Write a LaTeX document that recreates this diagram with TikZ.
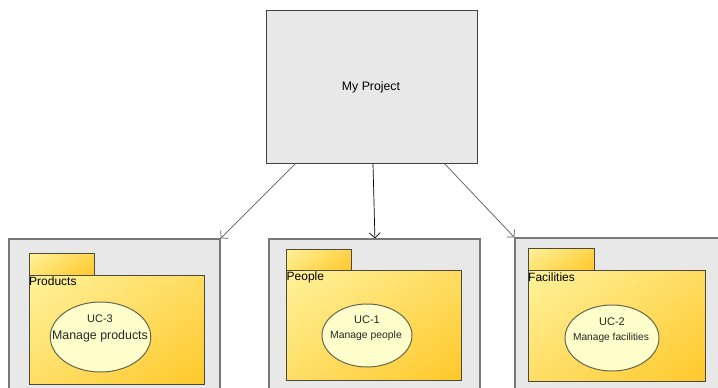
\documentclass[tikz,border=0pt]{standalone}
\usepackage{fontspec}
\setmainfont{Liberation Sans}
\usetikzlibrary{arrows.meta,calc,shapes.geometric}
\definecolor{panelfill}{HTML}{E8E8E8}
\definecolor{panelline}{HTML}{787878}
\definecolor{foldlight}{HTML}{FFF29C}
\definecolor{folddark}{HTML}{FFC82A}
\definecolor{foldline}{HTML}{4A4A3A}
\definecolor{ucfill}{HTML}{FFFFCC}
\definecolor{ucline}{HTML}{66664F}
\pgfdeclareverticalshading{foldshade}{100bp}{color(0bp)=(folddark); color(15bp)=(folddark); color(85bp)=(foldlight); color(100bp)=(foldlight)}
\tikzset{
  x=1pt,y=-1pt,
  topbox/.style={draw=black!75,line width=1pt,fill=panelfill,rectangle,inner sep=0pt},
  panel/.style={draw=panelline,line width=1.4pt,fill=panelfill,rectangle,inner sep=0pt},
  foldpart/.style={draw=foldline,line width=1pt,rectangle,inner sep=0pt,shade,shading=foldshade,shading angle=35},
  folderlabel/.style={inner sep=0pt,anchor=west,font=\fontsize{12}{14}\selectfont,text=black},
  ucase/.style={draw=ucline,line width=1pt,fill=ucfill,ellipse,inner sep=0pt},
  uctext/.style={inner sep=0pt,text=black!85},
  link/.style={-{Straight Barb[length=5pt,width=11pt]},line width=.7pt},
}
\begin{document}
\begin{tikzpicture}
\clip (0,0) rectangle (718,388);
% top box
\node[topbox,minimum width=211pt,minimum height=153pt] (top) at (371.5,86.5) {};
\node[font=\fontsize{12.3}{14}\selectfont,inner sep=0pt] (toplabel) at (371,87) {My Project};
% panels
\node[panel,minimum width=211pt,minimum height=170pt] (pa) at (114.5,324) {};
\node[panel,minimum width=211pt,minimum height=170pt] (pb) at (374.5,324) {};
\node[panel,minimum width=240pt,minimum height=170pt] (pc) at (635,323) {};
% connectors
\draw[link,draw=black!65] ($(top.south west)!0.142!(top.south east)$) -- (pa.north east);
\draw[link,draw=black] ($(top.south west)!0.507!(top.south east)$) -- ($(pb.north west)!0.502!(pb.north east)$);
\draw[link,draw=black!65] ($(top.south west)!0.844!(top.south east)$) -- (pc.north west);
% Products
\node[foldpart,minimum width=65pt,minimum height=22pt] (ta) at (61.5,264) {};
\node[foldpart,minimum width=175pt,minimum height=109pt] (fa) at (116.5,329.5) {};
\node[folderlabel] (la) at (29,281) {Products};
\node[ucase,minimum width=100.5pt,minimum height=70pt] (ua) at (100.5,337) {};
\node[uctext,font=\fontsize{11}{13}\selectfont] (ua1) at (100,319) {UC-3};
\node[uctext,font=\fontsize{12.4}{14}\selectfont] (ua2) at (100,336) {Manage products};
% People
\node[foldpart,minimum width=65pt,minimum height=21pt] (tb) at (318.5,259.5) {};
\node[foldpart,minimum width=175pt,minimum height=110pt] (fb) at (373.5,325) {};
\node[folderlabel] (lb) at (286.5,277) {People};
\node[ucase,minimum width=90pt,minimum height=63pt] (ub) at (367,335.5) {};
\node[uctext,font=\fontsize{11}{13}\selectfont] (ub1) at (367,319.5) {UC-1};
\node[uctext,font=\fontsize{10.4}{12}\selectfont] (ub2) at (366,335.5) {Manage people};
% Facilities
\node[foldpart,minimum width=66pt,minimum height=22pt] (tc) at (561,259) {};
\node[foldpart,minimum width=177pt,minimum height=111pt] (fc) at (616.5,325.5) {};
\node[folderlabel] (lc) at (528,277) {Facilities};
\node[ucase,minimum width=94pt,minimum height=66pt] (uc) at (612,338) {};
\node[uctext,font=\fontsize{11}{13}\selectfont] (uc1) at (612,322) {UC-2};
\node[uctext,font=\fontsize{10.2}{12}\selectfont] (uc2) at (611,338) {Manage facilities};
\end{tikzpicture}
\end{document}
